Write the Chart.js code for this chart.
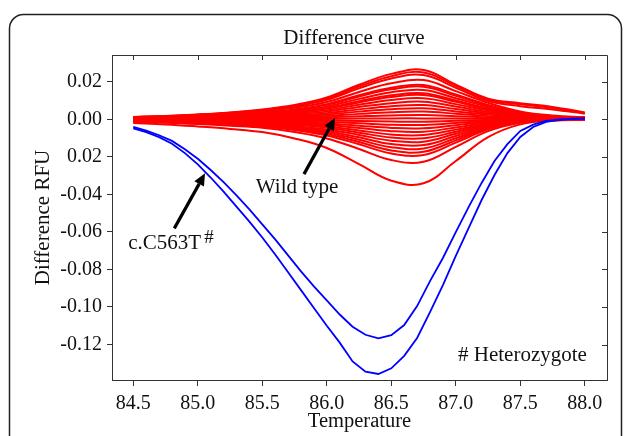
<!DOCTYPE html>
<html>
<head>
<meta charset="utf-8">
<script src="https://cdn.jsdelivr.net/npm/chart.js@4"></script>
<style>
  html, body { margin: 0; padding: 0; background: #fff; }
  #wrap { width: 627px; height: 436px; }
</style>
</head>
<body>
<div id="wrap"><canvas id="chart" width="627" height="436"></canvas></div>
<script>
// temperatures of the heterozygote runs (0.1 C steps)
const BLUE_TEMPS = [84.5, 84.6, 84.7, 84.8, 84.9, 85.0, 85.1, 85.2, 85.3, 85.4, 85.5, 85.6,
  85.7, 85.8, 85.9, 86.0, 86.1, 86.2, 86.3, 86.4, 86.5, 86.6, 86.7, 86.8,
  86.9, 87.0, 87.1, 87.2, 87.3, 87.4, 87.5, 87.6, 87.7, 87.8, 87.9, 88.0];

const C563T_RUN1 = [-0.0040, -0.0060, -0.0085, -0.0115, -0.0160, -0.0210, -0.0270, -0.0335,
  -0.0405, -0.0480, -0.0560, -0.0640, -0.0725, -0.0810, -0.0890, -0.0965, -0.1040, -0.1105,
  -0.1148, -0.1167, -0.1150, -0.1096, -0.0995, -0.0862, -0.0739, -0.0601, -0.0467, -0.0339,
  -0.0222, -0.0132, -0.0062, -0.0028, -0.0009, -0.0001, 0.0003, 0.0005];

const C563T_RUN2 = [-0.0048, -0.0068, -0.0095, -0.0130, -0.0180, -0.0240, -0.0310, -0.0385,
  -0.0465, -0.0545, -0.0630, -0.0720, -0.0815, -0.0910, -0.1005, -0.1100, -0.1190, -0.1290,
  -0.1345, -0.1357, -0.1327, -0.1260, -0.1165, -0.1027, -0.0883, -0.0728, -0.0579, -0.0430,
  -0.0297, -0.0180, -0.0094, -0.0041, -0.0014, -0.0003, 0.0002, 0.0004];

// wild type runs, sampled every 0.25 C
const RED_TEMPS = [84.5, 84.75, 85.0, 85.25, 85.5, 85.75, 86.0, 86.25, 86.5, 86.75, 87.0, 87.25, 87.5, 87.75, 88.0];

const WILD_TYPE_RUNS = [
  [0.0013, 0.0018, 0.0026, 0.0037, 0.0053, 0.0076, 0.0116, 0.0184, 0.0242, 0.0263, 0.0185, 0.0110, 0.0086, 0.0066, 0.0037],
  [0.0012, 0.0017, 0.0025, 0.0035, 0.0050, 0.0072, 0.0110, 0.0175, 0.0230, 0.0250, 0.0178, 0.0105, 0.0080, 0.0060, 0.0033],
  [0.0012, 0.0016, 0.0024, 0.0033, 0.0047, 0.0068, 0.0104, 0.0165, 0.0217, 0.0236, 0.0168, 0.0098, 0.0070, 0.0052, 0.0030],
  [0.0010, 0.0015, 0.0021, 0.0029, 0.0042, 0.0061, 0.0092, 0.0146, 0.0192, 0.0209, 0.0150, 0.0088, 0.0042, 0.0020, 0.0012],
  [0.0009, 0.0013, 0.0018, 0.0026, 0.0037, 0.0053, 0.0081, 0.0128, 0.0168, 0.0183, 0.0132, 0.0077, 0.0037, 0.0016, 0.0010],
  [0.0009, 0.0012, 0.0017, 0.0024, 0.0035, 0.0050, 0.0077, 0.0122, 0.0160, 0.0174, 0.0125, 0.0073, 0.0035, 0.0015, 0.0009],
  [0.0008, 0.0011, 0.0016, 0.0022, 0.0031, 0.0045, 0.0069, 0.0109, 0.0144, 0.0156, 0.0112, 0.0066, 0.0031, 0.0013, 0.0008],
  [0.0007, 0.0010, 0.0014, 0.0019, 0.0028, 0.0040, 0.0061, 0.0097, 0.0128, 0.0139, 0.0100, 0.0058, 0.0028, 0.0011, 0.0006],
  [0.0006, 0.0009, 0.0013, 0.0018, 0.0026, 0.0037, 0.0057, 0.0090, 0.0119, 0.0129, 0.0093, 0.0054, 0.0026, 0.0010, 0.0005],
  [0.0006, 0.0008, 0.0011, 0.0016, 0.0022, 0.0032, 0.0049, 0.0078, 0.0103, 0.0112, 0.0081, 0.0047, 0.0022, 0.0009, 0.0004],
  [0.0005, 0.0007, 0.0009, 0.0013, 0.0019, 0.0027, 0.0041, 0.0066, 0.0086, 0.0094, 0.0068, 0.0039, 0.0019, 0.0008, 0.0004],
  [0.0004, 0.0005, 0.0008, 0.0011, 0.0015, 0.0022, 0.0033, 0.0053, 0.0070, 0.0076, 0.0055, 0.0032, 0.0015, 0.0006, 0.0003],
  [0.0003, 0.0004, 0.0006, 0.0008, 0.0012, 0.0017, 0.0026, 0.0041, 0.0054, 0.0059, 0.0042, 0.0025, 0.0012, 0.0005, 0.0002],
  [0.0002, 0.0003, 0.0004, 0.0006, 0.0008, 0.0012, 0.0018, 0.0029, 0.0038, 0.0041, 0.0030, 0.0017, 0.0008, 0.0003, 0.0002],
  [0.0001, 0.0002, 0.0002, 0.0003, 0.0005, 0.0007, 0.0010, 0.0016, 0.0021, 0.0023, 0.0017, 0.0010, 0.0005, 0.0002, 0.0001],
  [0.0000, 0.0000, 0.0001, 0.0001, 0.0001, 0.0001, 0.0002, 0.0004, 0.0005, 0.0005, 0.0004, 0.0002, 0.0001, 0.0000, 0.0000],
  [-0.0001, -0.0001, -0.0001, -0.0002, -0.0003, -0.0004, -0.0006, -0.0009, -0.0012, -0.0013, -0.0008, -0.0004, -0.0001, 0.0000, 0.0000],
  [-0.0002, -0.0002, -0.0003, -0.0005, -0.0006, -0.0009, -0.0014, -0.0021, -0.0029, -0.0030, -0.0020, -0.0008, -0.0002, -0.0001, 0.0000],
  [-0.0003, -0.0004, -0.0005, -0.0007, -0.0010, -0.0014, -0.0022, -0.0034, -0.0046, -0.0048, -0.0031, -0.0013, -0.0004, -0.0001, 0.0000],
  [-0.0004, -0.0005, -0.0007, -0.0010, -0.0013, -0.0020, -0.0030, -0.0046, -0.0063, -0.0066, -0.0043, -0.0018, -0.0005, -0.0001, -0.0001],
  [-0.0005, -0.0007, -0.0009, -0.0013, -0.0017, -0.0025, -0.0038, -0.0059, -0.0081, -0.0084, -0.0055, -0.0024, -0.0007, -0.0002, -0.0001],
  [-0.0006, -0.0008, -0.0011, -0.0015, -0.0020, -0.0030, -0.0045, -0.0071, -0.0097, -0.0101, -0.0066, -0.0028, -0.0008, -0.0002, -0.0001],
  [-0.0007, -0.0010, -0.0013, -0.0018, -0.0024, -0.0036, -0.0054, -0.0083, -0.0114, -0.0119, -0.0077, -0.0033, -0.0010, -0.0002, -0.0001],
  [-0.0008, -0.0011, -0.0015, -0.0021, -0.0027, -0.0041, -0.0062, -0.0096, -0.0132, -0.0137, -0.0089, -0.0038, -0.0011, -0.0003, -0.0001],
  [-0.0009, -0.0012, -0.0017, -0.0023, -0.0031, -0.0047, -0.0070, -0.0109, -0.0149, -0.0155, -0.0101, -0.0043, -0.0012, -0.0003, -0.0002],
  [-0.0010, -0.0014, -0.0019, -0.0026, -0.0035, -0.0052, -0.0078, -0.0121, -0.0166, -0.0173, -0.0112, -0.0048, -0.0014, -0.0003, -0.0002],
  [-0.0011, -0.0015, -0.0021, -0.0029, -0.0038, -0.0057, -0.0086, -0.0133, -0.0182, -0.0190, -0.0124, -0.0053, -0.0015, -0.0004, -0.0002],
  [-0.0014, -0.0018, -0.0025, -0.0034, -0.0045, -0.0068, -0.0102, -0.0158, -0.0217, -0.0226, -0.0147, -0.0063, -0.0018, -0.0005, -0.0002],
  [-0.0020, -0.0027, -0.0038, -0.0051, -0.0068, -0.0102, -0.0153, -0.0239, -0.0327, -0.0341, -0.0222, -0.0095, -0.0027, -0.0007, -0.0003],
];

const X_TICKS = [84.5, 85.0, 85.5, 86.0, 86.5, 87.0, 87.5, 88.0];
const Y_TICKS = [0.02, 0.0, -0.02, -0.04, -0.06, -0.08, -0.10, -0.12];
// labels as printed in the figure (the third one has no minus sign there)
const Y_TICK_LABELS = ["0.02", "0.00", "0.02", "-0.04", "-0.06", "-0.08", "-0.10", "-0.12"];

const SERIF = '"Liberation Serif", "Times New Roman", serif';
const AXIS_COLOR = "#333";

// annotation anchors in data units
const ARROWS = [
  { from: [85.823, -0.0292], to: [86.064, 0.0007] },
  { from: [84.818, -0.0581], to: [85.056, -0.0288] },
];

function toXY(temps, values) {
  return temps.map((t, i) => ({ x: t, y: values[i] }));
}

function drawArrow(ctx, x0, y0, x1, y1) {
  const ang = Math.atan2(y1 - y0, x1 - x0);
  const head = 12, half = 5.5;
  const bx = x1 - head * Math.cos(ang);
  const by = y1 - head * Math.sin(ang);
  ctx.lineWidth = 3.2;
  ctx.beginPath();
  ctx.moveTo(x0, y0);
  ctx.lineTo(bx, by);
  ctx.stroke();
  ctx.beginPath();
  ctx.moveTo(x1, y1);
  ctx.lineTo(bx + half * Math.sin(ang), by - half * Math.cos(ang));
  ctx.lineTo(bx - half * Math.sin(ang), by + half * Math.cos(ang));
  ctx.closePath();
  ctx.fill();
}

const figurePlugin = {
  id: "figure",
  beforeDraw(chart) {
    const ctx = chart.ctx;
    ctx.save();
    ctx.fillStyle = "#fff";
    ctx.fillRect(0, 0, chart.width, chart.height);
    // panel outline, open at the bottom
    const l = 9.5, t = 14.5, r = 621.5, rad = 14;
    ctx.strokeStyle = "#222";
    ctx.lineWidth = 1.5;
    ctx.beginPath();
    ctx.moveTo(l, chart.height + 5);
    ctx.lineTo(l, t + rad);
    ctx.arcTo(l, t, l + rad, t, rad);
    ctx.lineTo(r - rad, t);
    ctx.arcTo(r, t, r, t + rad, rad);
    ctx.lineTo(r, chart.height + 5);
    ctx.stroke();
    ctx.restore();
  },
  afterDraw(chart) {
    const ctx = chart.ctx;
    const xs = chart.scales.x;
    const ys = chart.scales.y;
    const area = chart.chartArea;
    ctx.save();

    // top and right edges with inward ticks
    ctx.strokeStyle = AXIS_COLOR;
    ctx.lineWidth = 1;
    ctx.beginPath();
    ctx.moveTo(area.left, area.top + 0.5);
    ctx.lineTo(area.right + 0.5, area.top + 0.5);
    ctx.lineTo(area.right + 0.5, area.bottom);
    X_TICKS.forEach((v) => {
      const px = Math.round(xs.getPixelForValue(v)) + 0.5;
      ctx.moveTo(px, area.top);
      ctx.lineTo(px, area.top + 5);
    });
    Y_TICKS.forEach((v) => {
      const py = Math.round(ys.getPixelForValue(v)) + 0.5;
      ctx.moveTo(area.right, py);
      ctx.lineTo(area.right - 5, py);
    });
    ctx.stroke();

    // title
    ctx.fillStyle = "#111";
    ctx.font = `21px ${SERIF}`;
    ctx.textAlign = "center";
    ctx.textBaseline = "alphabetic";
    ctx.fillText("Difference curve", 354, 44);

    // annotations
    ctx.textAlign = "left";
    ctx.font = `21px ${SERIF}`;
    ctx.fillText("Wild type", xs.getPixelForValue(85.45), ys.getPixelForValue(-0.0392));
    ctx.fillText("c.C563T", xs.getPixelForValue(84.461), ys.getPixelForValue(-0.0693));
    ctx.fillText("# Heterozygote", xs.getPixelForValue(87.017), ys.getPixelForValue(-0.1288));
    ctx.font = `19px ${SERIF}`;
    ctx.fillText("#", xs.getPixelForValue(85.05), ys.getPixelForValue(-0.0657));

    ctx.strokeStyle = "#000";
    ctx.fillStyle = "#000";
    ARROWS.forEach((a) => {
      drawArrow(
        ctx,
        xs.getPixelForValue(a.from[0]), ys.getPixelForValue(a.from[1]),
        xs.getPixelForValue(a.to[0]), ys.getPixelForValue(a.to[1])
      );
    });
    ctx.restore();
  },
};

const datasets = [
  { data: toXY(BLUE_TEMPS, C563T_RUN1), borderColor: "#0000ff", borderWidth: 1.8, tension: 0 },
  { data: toXY(BLUE_TEMPS, C563T_RUN2), borderColor: "#0000ff", borderWidth: 1.8, tension: 0 },
].concat(
  WILD_TYPE_RUNS.map((run) => ({
    data: toXY(RED_TEMPS, run),
    borderColor: "#ff0000",
    borderWidth: 2,
    tension: 0.4,
  }))
);

Chart.defaults.font.family = SERIF;
Chart.defaults.color = "#111";

new Chart(document.getElementById("chart").getContext("2d"), {
  type: "line",
  data: { datasets },
  options: {
    responsive: false,
    animation: false,
    events: [],
    layout: { padding: { left: 0, right: 20, top: 55, bottom: 0 } },
    elements: { point: { radius: 0 } },
    plugins: { legend: { display: false }, tooltip: { enabled: false } },
    scales: {
      x: {
        type: "linear",
        min: 84.335,
        max: 88.172,
        afterBuildTicks: (scale) => { scale.ticks = X_TICKS.map((v) => ({ value: v })); },
        afterFit: (scale) => { scale.height = 56; },
        ticks: {
          font: { size: 20 },
          color: "#111",
          padding: 6,
          maxRotation: 0,
          autoSkip: false,
          callback: (v) => Number(v).toFixed(1),
        },
        grid: { drawOnChartArea: false, drawTicks: true, tickLength: 6, color: AXIS_COLOR },
        border: { display: true, color: AXIS_COLOR },
        title: { display: true, text: "Temperature", font: { size: 20.5 }, color: "#111", padding: { top: 0, bottom: 2 } },
      },
      y: {
        type: "linear",
        min: -0.1389,
        max: 0.03427,
        afterBuildTicks: (scale) => { scale.ticks = Y_TICKS.map((v) => ({ value: v })); },
        afterFit: (scale) => { scale.width = 112; },
        ticks: {
          font: { size: 20 },
          color: "#111",
          padding: 5,
          autoSkip: false,
          callback: (v, i) => Y_TICK_LABELS[i],
        },
        grid: { drawOnChartArea: false, drawTicks: true, tickLength: 5, color: AXIS_COLOR },
        border: { display: true, color: AXIS_COLOR },
        title: { display: true, text: "Difference RFU", font: { size: 21 }, color: "#111", padding: { top: 31, bottom: 0 } },
      },
    },
  },
  plugins: [figurePlugin],
});
</script>
</body>
</html>
